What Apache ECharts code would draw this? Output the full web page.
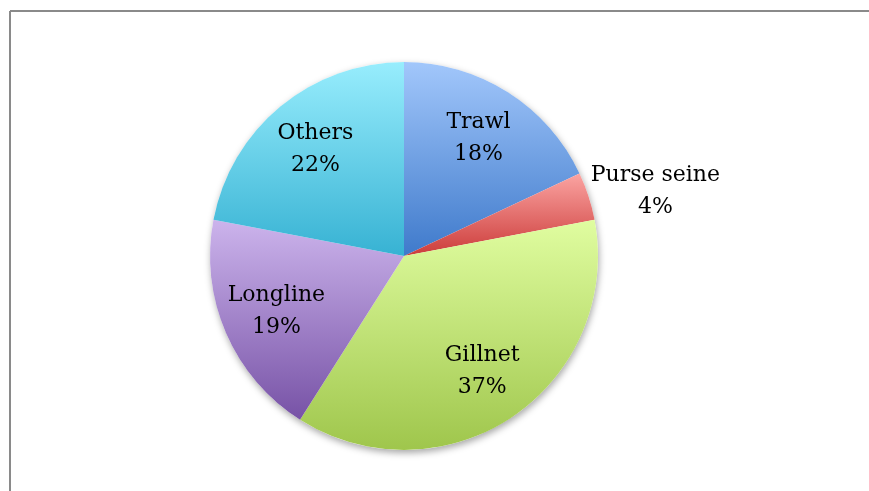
<!DOCTYPE html>
<html>
<head>
<meta charset="utf-8">
<script src="https://cdn.jsdelivr.net/npm/echarts@6/dist/echarts.min.js"></script>
<style>
  html, body { margin: 0; padding: 0; background: #fff; }
  #chart { width: 869px; height: 491px; }
</style>
</head>
<body>
<div id="chart"></div>
<script>
// Share of catch by gear type (%)
const gears = ['Trawl', 'Purse seine', 'Gillnet', 'Longline', 'Others'];
const shares = [18, 4, 37, 19, 22];
const outsideLabels = ['Purse seine'];

// top / bottom gradient colours per slice
const gradients = [
  ['#a2c7fb', '#3f7acb'],
  ['#fba4a2', '#cc3c3a'],
  ['#e0fda0', '#9fc64c'],
  ['#ccb4ec', '#7752a6'],
  ['#98edfd', '#37b2d3']
];

const chart = echarts.init(document.getElementById('chart'));

const fill = (i) => new echarts.graphic.LinearGradient(0, 0, 0, 1, [
  { offset: 0, color: gradients[i][0] },
  { offset: 1, color: gradients[i][1] }
]);

const labelText = (p) => '{t|' + p.name + '}\n{t|' + p.value + '%}';
const labelFont = {
  t: { fontFamily: 'DejaVu Serif', fontSize: 22, lineHeight: 32, color: '#000', align: 'center' }
};

const center = [404, 256];
const R = 194;

const option = {
  animation: false,
  backgroundColor: '#fff',
  graphic: [
    { type: 'line', shape: { x1: 10, y1: 11, x2: 869, y2: 11 }, style: { stroke: '#8a8a8a', lineWidth: 2 } },
    { type: 'line', shape: { x1: 10, y1: 11, x2: 10, y2: 491 }, style: { stroke: '#8a8a8a', lineWidth: 2 } }
  ],
  series: [
    {
      // soft shadow behind the pie
      type: 'pie',
      silent: true,
      center: center,
      radius: R,
      z: 1,
      label: { show: false },
      labelLine: { show: false },
      itemStyle: { color: '#fff', shadowBlur: 7, shadowColor: 'rgba(0,0,0,0.35)', shadowOffsetX: 1, shadowOffsetY: 3 },
      data: [{ value: 1, name: '' }]
    },
    {
      type: 'pie',
      center: center,
      radius: R,
      z: 2,
      startAngle: 90,
      clockwise: true,
      itemStyle: { borderWidth: 0 },
      label: {
        show: true,
        position: 'outside',
        formatter: labelText,
        rich: labelFont,
        distanceToLabelLine: -13
      },
      labelLine: { show: false, length: 16, length2: 0 },
      data: gears.map((g, i) => ({
        name: g,
        value: shares[i],
        itemStyle: { color: fill(i) },
        label: { show: outsideLabels.includes(g) }
      }))
    },
    {
      // label layer for the inside labels (pushed out towards the rim)
      type: 'pie',
      silent: true,
      center: center,
      radius: [78, R],
      z: 3,
      startAngle: 90,
      clockwise: true,
      itemStyle: { color: 'rgba(0,0,0,0)' },
      label: {
        show: true,
        position: 'inside',
        formatter: labelText,
        rich: labelFont
      },
      labelLine: { show: false },
      data: gears.map((g, i) => ({
        name: g,
        value: shares[i],
        label: { show: !outsideLabels.includes(g) }
      }))
    }
  ]
};

chart.setOption(option);
</script>
</body>
</html>
